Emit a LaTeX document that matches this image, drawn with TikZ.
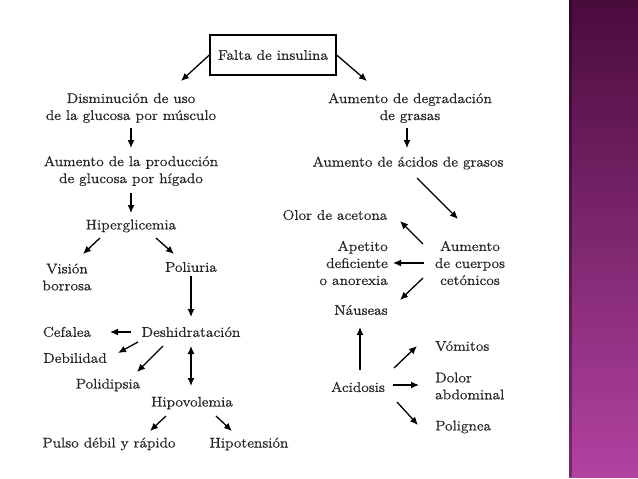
\documentclass[tikz,border=0pt]{standalone}
\usepackage{fontspec}
\setmainfont[FakeStretch=1.1, FakeBold=0.8]{Latin Modern Roman}
\usepackage{tikz}
\usetikzlibrary{arrows.meta}

\definecolor{txtgray}{HTML}{262626}
\definecolor{bartop}{HTML}{4A0B3D}
\definecolor{barbot}{HTML}{B142A1}

\tikzset{
  lbl/.style={align=center, inner sep=0pt, text=txtgray,
    font=\fontsize{14}{17}\selectfont},
  flow/.style={-{Latex[length=8pt,width=7pt]}, line width=1.3pt},
  flowboth/.style={{Latex[length=8pt,width=7pt]}-{Latex[length=8pt,width=7pt]}, line width=1.3pt}
}

\begin{document}
\begin{tikzpicture}[x=1pt, y=-1pt]
  \useasboundingbox (0,0) rectangle (638,479);
  % Side bar
  \shade[top color=bartop, bottom color=barbot] (569,0) rectangle (638,477);
  \fill[black, opacity=0.35] (569,0) rectangle (572,477);
  % Nodes
  \node[lbl, draw=black, line width=1.3pt, minimum width=126pt, minimum height=40pt] (falta) at (273,55) {Falta de insulina};
  \node[lbl] (dismin) at (131,108) {Disminución de uso\\de la glucosa por músculo};
  \node[lbl] (produc) at (131,171) {Aumento de la producción\\de glucosa por hígado};
  \node[lbl] (hiper) at (131,226) {Hiperglicemia};
  \node[lbl] (vision) at (67,277) {Visión\\borrosa};
  \node[lbl] (poliur) at (191,267) {Poliuria};
  \node[lbl] (deshid) at (191,332) {Deshidratación};
  \node[lbl] (cefal) at (67,332) {Cefalea};
  \node[lbl] (debil) at (75,358) {Debilidad};
  \node[lbl] (polid) at (108,385) {Polidipsia};
  \node[lbl] (hipov) at (192,403) {Hipovolemia};
  \node[lbl] (pulso) at (109,444) {Pulso débil y rápido};
  \node[lbl] (hipot) at (249,444) {Hipotensión};
  \node[lbl] (degrad) at (410,108) {Aumento de degradación\\de grasas};
  \node[lbl] (acgras) at (408,163) {Aumento de ácidos de grasos};
  \node[lbl] (olor) at (335,215) {Olor de acetona};
  \node[lbl, align=right, anchor=east] (apet) at (388,263) {Apetito\\deficiente\\o anorexia};
  \node[lbl] (cuerp) at (470,263) {Aumento\\de cuerpos\\cetónicos};
  \node[lbl] (naus) at (361,310) {Náuseas};
  \node[lbl] (acidos) at (358,387) {Acidosis};
  \node[lbl, anchor=west] (vomit) at (435,346) {Vómitos};
  \node[lbl, align=left, anchor=west] (dolor) at (435,386) {Dolor\\abdominal};
  \node[lbl, anchor=west] (polig) at (435,427) {Polignea};
  % Edges
  \draw[flow] (falta.west) -- ([shift={(50,-27)}]dismin.center);
  \draw[flow] (falta.east) -- ([shift={(-43,-27)}]degrad.center);
  \draw[flow] ([shift={(0,20)}]dismin.center) -- ([shift={(0,-23)}]produc.center);
  \draw[flow] ([shift={(0,22)}]produc.center) -- ([shift={(0,-13)}]hiper.center);
  \draw[flow] ([shift={(-31,12)}]hiper.center) -- ([shift={(16,-23)}]vision.center);
  \draw[flow] ([shift={(25,12)}]hiper.center) -- ([shift={(-17,-13)}]poliur.center);
  \draw[flow] ([shift={(0,9)}]poliur.center) -- ([shift={(0,-15)}]deshid.center);
  \draw[flow] ([shift={(-60,0)}]deshid.center) -- ([shift={(43,0)}]cefal.center);
  \draw[flow] ([shift={(-53,10)}]deshid.center) -- ([shift={(43,-5)}]debil.center);
  \draw[flow] ([shift={(-28,14)}]deshid.center) -- ([shift={(29,-13)}]polid.center);
  \draw[flowboth] ([shift={(0,14)}]deshid.center) -- ([shift={(-1,-17)}]hipov.center);
  \draw[flow] ([shift={(-26,13)}]hipov.center) -- ([shift={(41,-13)}]pulso.center);
  \draw[flow] ([shift={(24,13)}]hipov.center) -- ([shift={(-17,-13)}]hipot.center);
  \draw[flow] ([shift={(-3,20)}]degrad.center) -- ([shift={(-1,-15)}]acgras.center);
  \draw[flow] ([shift={(9,15)}]acgras.center) -- ([shift={(-12,-44)}]cuerp.center);
  \draw[flow] ([shift={(-47,-19)}]cuerp.center) -- ([shift={(65,6)}]olor.center);
  \draw[flow] ([shift={(-46,0)}]cuerp.center) -- ([shift={(5,0)}]apet.east);
  \draw[flow] ([shift={(-47,15)}]cuerp.center) -- ([shift={(39,-10)}]naus.center);
  \draw[flow] ([shift={(2,-17)}]acidos.center) -- ([shift={(-1,17)}]naus.center);
  \draw[flow] ([shift={(36,-19)}]acidos.center) -- ([shift={(-18,0)}]vomit.west);
  \draw[flow] ([shift={(35,-2)}]acidos.center) -- ([shift={(-16,-1)}]dolor.west);
  \draw[flow] ([shift={(39,15)}]acidos.center) -- ([shift={(-17,-2)}]polig.west);
\end{tikzpicture}
\end{document}
